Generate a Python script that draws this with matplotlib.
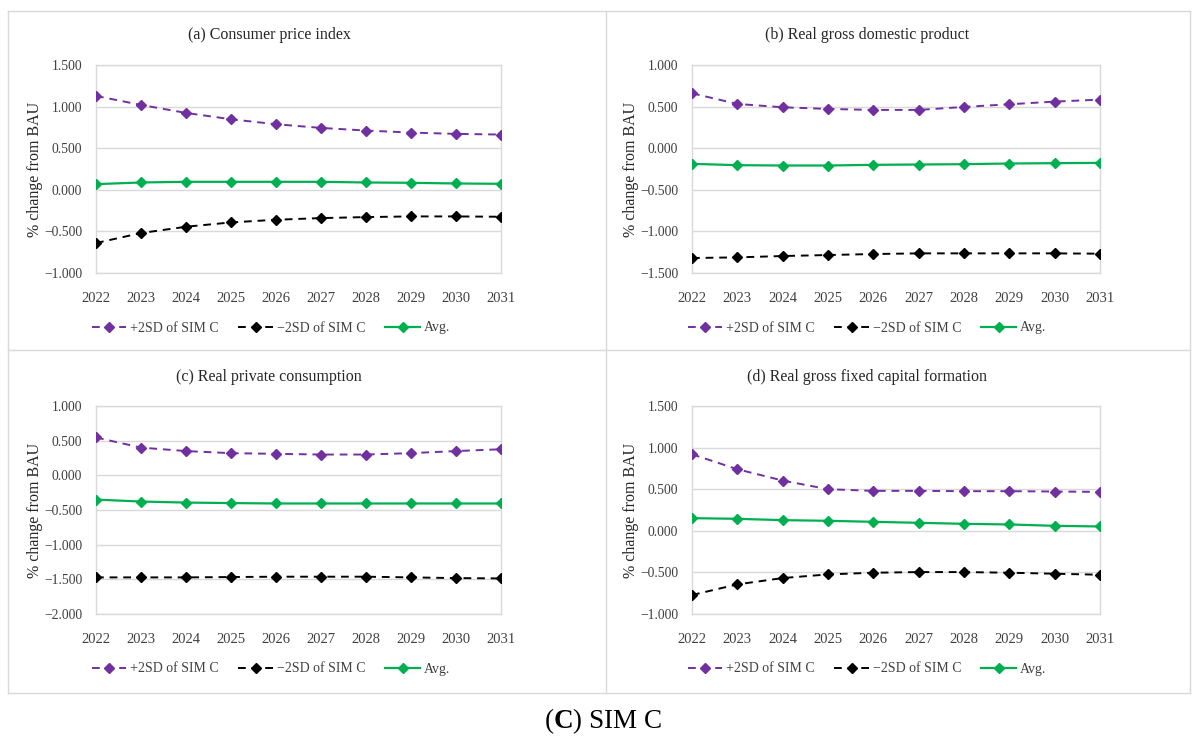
import matplotlib
matplotlib.use("Agg")
import matplotlib.pyplot as plt
from matplotlib.lines import Line2D
import numpy as np

years = ["2022", "2023", "2024", "2025", "2026", "2027", "2028", "2029", "2030", "2031"]

titles = ["(a) Consumer price index", "(b) Real gross domestic product",
          "(c) Real private consumption", "(d) Real gross fixed capital formation"]

cpi_plus = [1.128, 1.020, 0.924, 0.848, 0.788, 0.744, 0.712, 0.688, 0.672, 0.664]
cpi_avg = [0.068, 0.088, 0.096, 0.096, 0.096, 0.096, 0.088, 0.084, 0.076, 0.072]
cpi_minus = [-0.640, -0.520, -0.444, -0.392, -0.360, -0.340, -0.328, -0.320, -0.320, -0.324]

gdp_plus = [0.660, 0.532, 0.492, 0.472, 0.460, 0.460, 0.496, 0.528, 0.560, 0.584]
gdp_avg = [-0.188, -0.204, -0.208, -0.208, -0.200, -0.196, -0.192, -0.184, -0.180, -0.176]
gdp_minus = [-1.320, -1.312, -1.296, -1.284, -1.272, -1.264, -1.264, -1.264, -1.264, -1.268]

pc_plus = [0.546, 0.400, 0.350, 0.320, 0.310, 0.300, 0.300, 0.320, 0.350, 0.376]
pc_avg = [-0.350, -0.378, -0.393, -0.400, -0.406, -0.406, -0.406, -0.406, -0.406, -0.406]
pc_minus = [-1.472, -1.472, -1.472, -1.467, -1.462, -1.462, -1.462, -1.472, -1.482, -1.487]

gfcf_plus = [0.920, 0.740, 0.604, 0.500, 0.480, 0.480, 0.476, 0.476, 0.472, 0.468]
gfcf_avg = [0.152, 0.144, 0.128, 0.120, 0.108, 0.096, 0.084, 0.076, 0.060, 0.052]
gfcf_minus = [-0.772, -0.644, -0.568, -0.524, -0.504, -0.496, -0.496, -0.504, -0.516, -0.528]

ylims = [(-1.0, 1.5), (-1.5, 1.0), (-2.0, 1.0), (-1.0, 1.5)]

labels = ["+2SD of SIM C", "\u22122SD of SIM C", "Avg."]

PURPLE = "#7030A0"
GREEN = "#00B050"
BLACK = "#000000"
GRID = "#D9D9D9"
TEXT = "#404040"

plt.rcParams["font.family"] = ["Liberation Serif", "DejaVu Serif"]
plt.rcParams["mathtext.fontset"] = "custom"
plt.rcParams["mathtext.rm"] = "Liberation Serif"
plt.rcParams["mathtext.bf"] = "Liberation Serif:bold"

W, H = 1197, 736
fig = plt.figure(figsize=(W / 100, H / 100), dpi=100)
fig.patch.set_facecolor("white")


def fx(px):
    return px / W


def fy(py):
    return 1 - py / H


# panel frames
for xs, ys in [([8, 1190], [11, 11]), ([8, 1190], [350, 350]), ([8, 1190], [693, 693]),
               ([8, 8], [11, 693]), ([606, 606], [11, 693]), ([1190, 1190], [11, 693])]:
    fig.add_artist(Line2D([fx(v) for v in xs], [fy(v) for v in ys], color="#D9D9D9", lw=1.0))

data = [(cpi_plus, cpi_minus, cpi_avg), (gdp_plus, gdp_minus, gdp_avg),
        (pc_plus, pc_minus, pc_avg), (gfcf_plus, gfcf_minus, gfcf_avg)]

boxes = [(96, 501, 65, 273), (692, 1100, 65, 273), (96, 501, 406, 614), (692, 1100, 406, 614)]
title_pos = [(269, 35), (867, 35), (269, 377), (867, 377)]
legend_pos = [(271, 328), (867, 328), (271, 669), (867, 669)]
ylabel_x = [35, 631, 35, 631]

x = np.arange(len(years))

for i in range(4):
    l, r, t, b = boxes[i]
    ax = fig.add_axes([fx(l), fy(b), (r - l) / W, (b - t) / H])
    plus, minus, avg = data[i]
    h1, = ax.plot(x, plus, color=PURPLE, lw=1.4, ls=(0, (4, 3)), marker="D", ms=5,
                  markeredgecolor=PURPLE, markerfacecolor=PURPLE, zorder=3)
    h2, = ax.plot(x, minus, color=BLACK, lw=1.4, ls=(0, (4, 3)), marker="D", ms=5,
                  markeredgecolor=BLACK, markerfacecolor=BLACK, zorder=3)
    h3, = ax.plot(x, avg, color=GREEN, lw=1.6, marker="D", ms=5,
                  markeredgecolor=GREEN, markerfacecolor=GREEN, zorder=3)
    ax.set_xlim(0, len(years) - 1)
    lo, hi = ylims[i]
    ax.set_ylim(lo, hi)
    ticks = np.arange(lo, hi + 0.001, 0.5)
    ax.set_yticks(ticks)
    ax.set_yticklabels([("%.3f" % v).replace("-", "\u2212") if abs(v) > 1e-9 else "0.000" for v in ticks])
    ax.set_xticks(x)
    ax.set_xticklabels(years)
    ax.grid(axis="y", color=GRID, lw=1.0)
    ax.set_axisbelow(True)
    for s in ax.spines.values():
        s.set_color(GRID)
        s.set_linewidth(1.0)
    ax.tick_params(axis="x", length=0, labelsize=10.5, colors=TEXT, pad=14)
    ax.tick_params(axis="y", length=0, labelsize=9.8, colors=TEXT, pad=10)
    tx, ty = title_pos[i]
    fig.text(fx(tx), fy(ty), titles[i], ha="center", va="center", fontsize=11.5, color="#262626")
    fig.text(fx(ylabel_x[i]), fy((t + b) / 2), "% change from BAU", rotation=90,
             ha="center", va="center", fontsize=11.5, color="#262626")
    lx, ly = legend_pos[i]
    fig.legend([h1, h2, h3], labels, loc="center",
               bbox_to_anchor=(fx(lx), fy(ly)), ncol=3, frameon=False,
               fontsize=10, handlelength=2.5, columnspacing=1.4, handletextpad=0.3,
               labelcolor=TEXT)

fig.text(fx(603), fy(721), r"($\mathbf{C}$) SIM C", ha="center", va="center", fontsize=19.5,
         color="black")

fig.savefig("out.png", dpi=100, facecolor="white")
